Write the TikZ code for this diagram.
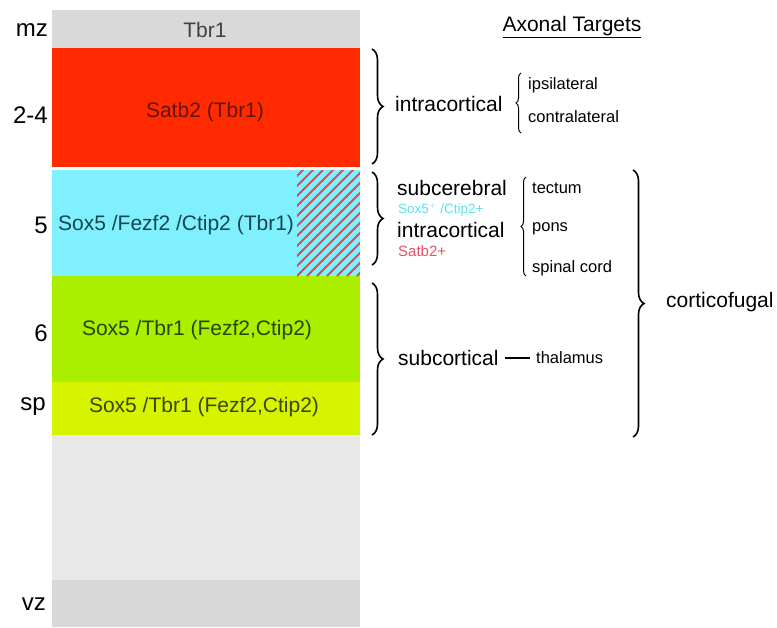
\documentclass[tikz,border=0pt]{standalone}
\usepackage{fontspec}
\setmainfont{Liberation Sans}
\usetikzlibrary{decorations.pathreplacing}
\definecolor{mzgray}{RGB}{217,217,217}
\definecolor{lgray}{RGB}{232,232,232}
\definecolor{vzgray}{RGB}{216,216,216}
\definecolor{lred}{RGB}{255,42,0}
\definecolor{lcyan}{RGB}{128,240,255}
\definecolor{lgreen}{RGB}{170,238,0}
\definecolor{lyellow}{RGB}{214,244,0}
\definecolor{hatchred}{RGB}{230,70,80}
\definecolor{cyantext}{RGB}{90,225,235}
\definecolor{pinktext}{RGB}{235,80,100}
\tikzset{
  big/.style={font=\fontsize{21}{24}\selectfont, inner sep=0pt},
  lbl/.style={font=\fontsize{24}{28}\selectfont, inner sep=0pt, anchor=east},
  sml/.style={font=\fontsize{16.5}{19}\selectfont, inner sep=0pt, anchor=west},
  tiny/.style={font=\fontsize{13.5}{16}\selectfont, inner sep=0pt, anchor=west},
  bigbrace/.style={decorate, decoration={brace, amplitude=11pt}, line width=1.6pt},
  smallbrace/.style={decorate, decoration={brace, amplitude=5pt}, line width=1pt},
  hatchline/.style={hatchred, line width=2pt}
}
\begin{document}
\begin{tikzpicture}[x=1pt,y=-1pt]
\useasboundingbox (0,0) rectangle (777,627);
% layers
\fill[mzgray] (52,10) rectangle (360,48);
\fill[lred] (52,48) rectangle (360,167);
\fill[white] (52,167) rectangle (360,170);
\fill[lcyan] (52,170) rectangle (360,276);
\fill[lgreen] (52,276) rectangle (360,382);
\fill[lyellow] (52,382) rectangle (360,435);
\fill[lgray] (52,435) rectangle (360,580);
\fill[vzgray] (52,580) rectangle (360,627);
% hatch
\begin{scope}
\clip (297,170) rectangle (360,276);
\foreach \i in {0,...,18} \draw[hatchline] ({187+\i*10},276) -- ++(110,-110);
\end{scope}
% layer texts
\node[big, text=black!75] (tmz) at (205,30) {Tbr1};
\node[big, text={rgb,255:red,100;green,20;blue,10}] (t24) at (205,112) {Satb2 (Tbr1)};
\node[big, text={rgb,255:red,20;green,70;blue,80}, anchor=west] (t5) at (58,225) {Sox5 /Fezf2 /Ctip2 (Tbr1)};
\node[big, text={rgb,255:red,40;green,70;blue,0}] (t6) at (197,330) {Sox5 /Tbr1 (Fezf2,Ctip2)};
\node[big, text={rgb,255:red,60;green,70;blue,0}] (tsp) at (204,407) {Sox5 /Tbr1 (Fezf2,Ctip2)};
% left labels
\node[lbl] (lmz) at (48,30) {mz};
\node[lbl] (l24) at (48,115) {2-4};
\node[lbl] (l5) at (48,225) {5};
\node[lbl] (l6) at (48,333) {6};
\node[lbl] (lsp) at (46,407) {sp};
\node[lbl] (lvz) at (46,604) {vz};
% title
\node[big] (title) at (572,27) {\underline{Axonal Targets}};
% braces
\coordinate (b1t) at (372,49); \coordinate (b1b) at (372,164);
\coordinate (b2t) at (372,172); \coordinate (b2b) at (372,265);
\coordinate (b4t) at (372,283); \coordinate (b4b) at (372,435);
\coordinate (s1t) at (521,73); \coordinate (s1b) at (521,133);
\coordinate (s2t) at (526,177); \coordinate (s2b) at (526,276);
\coordinate (cft) at (633,170); \coordinate (cfb) at (633,437);
\draw[bigbrace] (b1t) -- (b1b);
\draw[bigbrace] (b2t) -- (b2b);
\draw[bigbrace] (b4t) -- (b4b);
\draw[bigbrace] (cft) -- (cfb);
\draw[smallbrace] (s1b) -- (s1t);
\draw[smallbrace] (s2b) -- (s2t);
% brace texts
\node[big, anchor=west] (intra1) at (395,104) {intracortical};
\node[sml] (ipsi) at (528,85) {ipsilateral};
\node[sml] (contra) at (528,117) {contralateral};
\node[big, anchor=west] (subcer) at (397,188) {subcerebral};
\node[tiny, text=cyantext] (soxc) at (398,209.5) {Sox5$^{+}$ /Ctip2+};
\node[big, anchor=west] (intra2) at (397,230) {intracortical};
\node[tiny, text=pinktext, font=\fontsize{15}{18}\selectfont] (satb) at (398,251) {Satb2+};
\node[sml] (tect) at (532,188) {tectum};
\node[sml] (pons) at (532,229) {pons};
\node[sml] (spinal) at (532,268) {spinal cord};
\node[big, anchor=west] (subcort) at (398,358) {subcortical};
\node[sml] (thal) at (536,358) {thalamus};
\draw[line width=1.3pt] ([xshift=6pt]subcort.east) -- ([xshift=-6pt]thal.west);
\node[big, anchor=west] (cf) at (666,302) {corticofugal};
\end{tikzpicture}
\end{document}
